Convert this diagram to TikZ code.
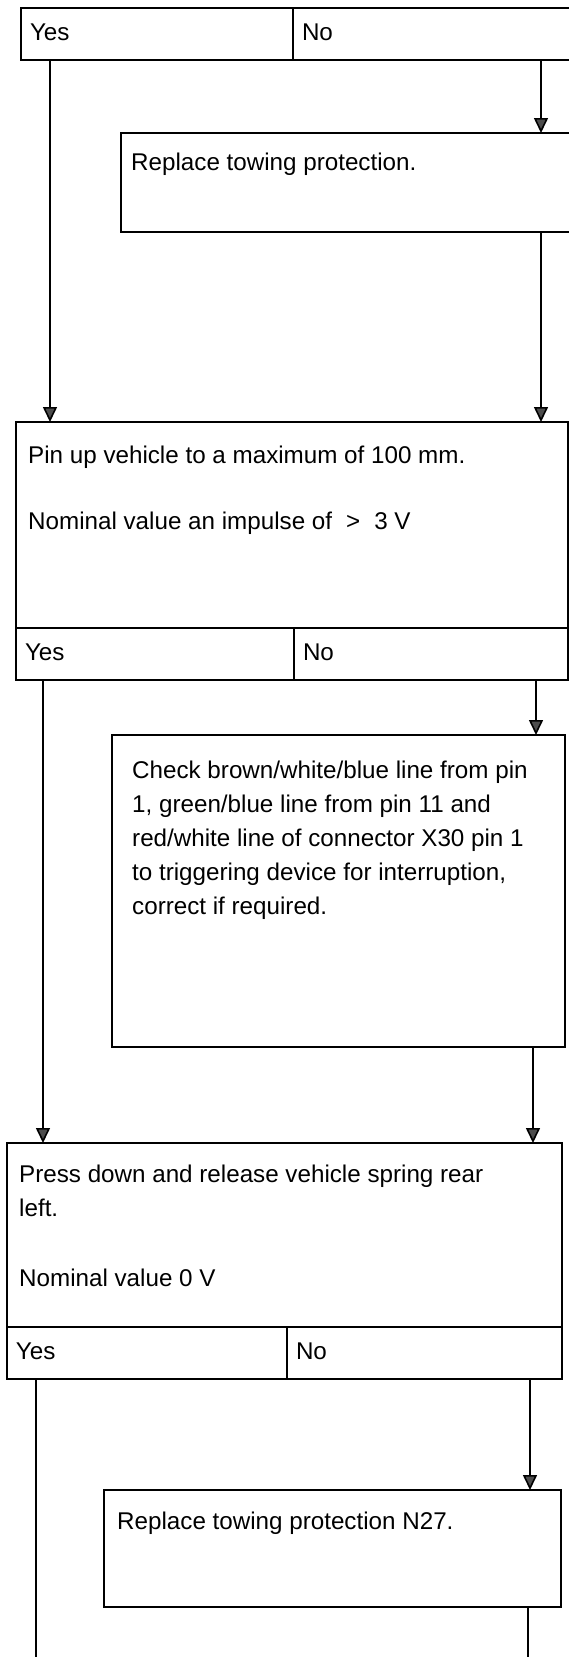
\documentclass[tikz,border=0pt]{standalone}
\usepackage{fontspec}
\setmainfont{Liberation Sans}
\usetikzlibrary{arrows.meta,positioning}

\begin{document}
\begin{tikzpicture}[x=1pt, y=-1pt,
		every node/.style={font=\fontsize{24.2}{34}\selectfont},
		answer/.style={draw, line width=2.2pt, outer sep=0pt, inner xsep=9pt, text width=#1, minimum height=52pt, text height=18pt, text depth=5pt, align=left},
		task/.style={draw, line width=2.2pt, outer sep=0pt, anchor=north west},
		note/.style={inner sep=0pt, anchor=north west, align=left},
		link/.style={line width=1.6pt},
		flow/.style={link, -{Triangle[width=14pt, length=15pt, fill=black!70]}},
	]
	\useasboundingbox (0,0) rectangle (569,1657);
	\coordinate (bottom) at (0,1660);

	\node[answer=254pt, anchor=north west] (yes0) at (21,8) {Yes};
	\node[answer=261pt, right=0pt of yes0] (no0) {No};

	\node[task, minimum width=452pt, minimum height=99pt] (rep1) at (121,133) {};
	\node[note] (rep1txt) at ([xshift=10pt, yshift=-20pt]rep1.north west) {Replace towing protection.};

	\node[task, minimum width=552pt, minimum height=206pt] (pin) at (16,422) {};
	\node[note] (pintxt) at ([xshift=12pt, yshift=-24pt]pin.north west) {Pin up vehicle to a maximum of 100 mm.\\[32pt]Nominal value an impulse of\hspace{14pt}>\hspace{14pt}3 V};
	\node[answer=260pt, anchor=north west] (yes2) at (pin.south west) {Yes};
	\node[answer=256pt, right=0pt of yes2] (no2) {No};

	\node[task, minimum width=453pt, minimum height=312pt] (chk) at (112,735) {};
	\node[note] (chktxt) at ([xshift=20pt, yshift=-26pt]chk.north west) {Check brown/white/blue line from pin\\1, green/blue line from pin 11 and\\red/white line of connector X30 pin 1\\to triggering device for interruption,\\correct if required.};

	\node[task, minimum width=555pt, minimum height=184pt] (press) at (7,1143) {};
	\node[note] (presstxt) at ([xshift=12pt, yshift=-22pt]press.north west) {Press down and release vehicle spring rear\\left.\\[36pt]Nominal value 0 V};
	\node[answer=262pt, anchor=north west] (yes4) at (press.south west) {Yes};
	\node[answer=257pt, right=0pt of yes4] (no4) {No};

	\node[task, minimum width=457pt, minimum height=117pt] (rep2) at (104,1490) {};
	\node[note] (rep2txt) at ([xshift=13pt, yshift=-22pt]rep2.north west) {Replace towing protection N27.};

	% columns of the connectors
	\coordinate (ycol0) at (50,0);
	\coordinate (ncol0) at (541,0);
	\coordinate (ycol2) at (43,0);
	\coordinate (ncol2) at (536,0);
	\coordinate (ncol3) at (533,0);
	\coordinate (ycol4) at (36,0);
	\coordinate (ncol4) at (530,0);
	\coordinate (ncol5) at (528,0);

	\draw[flow] (ycol0 |- yes0.south) -- (ycol0 |- pin.north);
	\draw[flow] (ncol0 |- no0.south) -- (ncol0 |- rep1.north);
	\draw[flow] (ncol0 |- rep1.south) -- (ncol0 |- pin.north);
	\draw[flow] (ycol2 |- yes2.south) -- (ycol2 |- press.north);
	\draw[flow] (ncol2 |- no2.south) -- (ncol2 |- chk.north);
	\draw[flow] (ncol3 |- chk.south) -- (ncol3 |- press.north);
	\draw[link] (ycol4 |- yes4.south) -- (ycol4 |- bottom);
	\draw[flow] (ncol4 |- no4.south) -- (ncol4 |- rep2.north);
	\draw[link] (ncol5 |- rep2.south) -- (ncol5 |- bottom);
\end{tikzpicture}
\end{document}
